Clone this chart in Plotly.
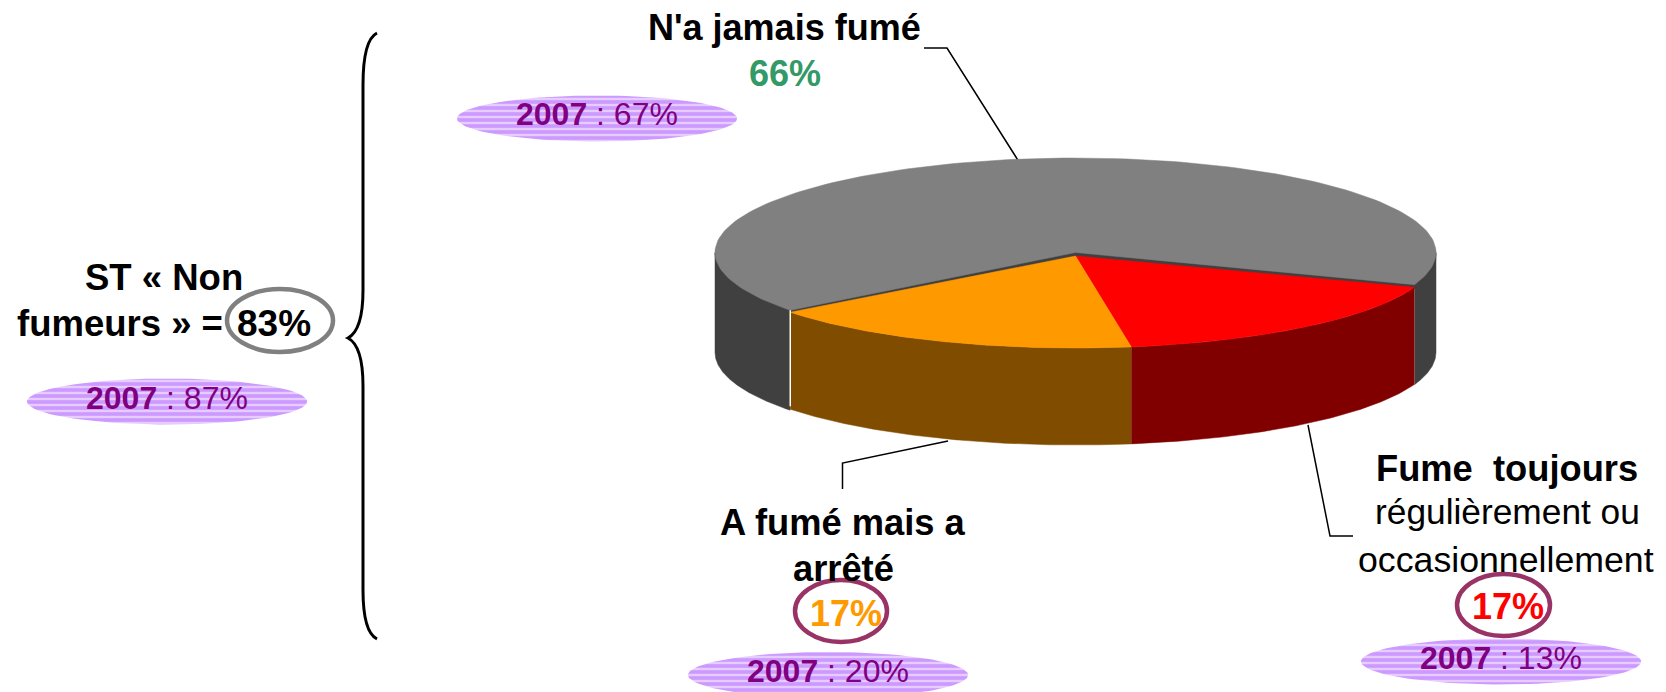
import numpy as np
import plotly.graph_objects as go

# ---- data ----
categories = ["Fume toujours", "A fumé mais a arrêté", "N'a jamais fumé"]
shares_2008 = [17, 17, 66]
top_colors = ["#ff0000", "#ff9900", "#808080"]
wall_colors = ["#800000", "#804d00", "#404040"]

FONT = "Liberation Sans"
PURPLE = "#800080"

# (text, x, y, size, colour)
labels = [
    ("<b>N'a jamais fumé</b>", 784, 27, 36, "#000000"),
    ("<b>66%</b>", 785, 73, 36, "#339966"),
    ("<b>ST « Non</b>", 163.5, 277, 36.5, "#000000"),
    ("<b>fumeurs » =</b>", 120, 323, 36.5, "#000000"),
    ("<b>83%</b>", 274, 323, 37, "#000000"),
    ("<b>A fumé mais a</b>", 843, 522, 36.3, "#000000"),
    ("<b>arrêté</b>", 843, 568, 36.3, "#000000"),
    ("<b>17%</b>", 846, 613, 36, "#ff9900"),
    ("<b>Fume\u00a0\u00a0toujours</b>", 1507, 468, 36.3, "#000000"),
    ("régulièrement ou", 1507, 511, 35.3, "#000000"),
    ("occasionnellement", 1506, 560, 35.7, "#000000"),
    ("<b>17%</b>", 1508, 606, 36, "#ff0000"),
]
# (text, ellipse centre x, ellipse centre y, text x, text y)
history = [
    ("<b>2007</b> : 67%", 597, 118.5, 597, 114),
    ("<b>2007</b> : 87%", 167, 401.5, 167, 398),
    ("<b>2007</b> : 20%", 828, 675, 828, 671),
    ("<b>2007</b> : 13%", 1501, 661.5, 1501, 658),
]
# (x0, y0, x1, y1, colour, width)
rings = [
    (227, 289, 333, 352, "#808080", 4.5),
    (795, 580, 887, 642, "#993366", 4.5),
    (1457, 574, 1550, 636, "#993366", 4.5),
]
leaders = [
    ([924, 947, 1021], [48, 48, 165]),
    ([842.5, 842.5, 948], [489, 463, 441]),
    ([1308, 1330, 1353], [425, 536, 536]),
]
brace = "M 377 33 Q 363 40 363 85 L 363 290 Q 363 330 348 338 Q 363 346 363 386 L 363 590 Q 363 632 377 639"

# ---- pie geometry ----
CX, A = 1075.5, 360.5
BACK = dict(cy=252.5, b=94.5, depth=100)
FRONT = dict(cy=256, b=92, depth=97)
START = 19.9


def arc(t0, t1, g, drop=0.0):
    t = np.radians(np.linspace(t0, t1, 160))
    return CX + A * np.cos(t), g["cy"] + g["b"] * np.sin(t) + drop


def add_poly(fig, x, y, color):
    fig.add_trace(go.Scatter(x=list(x), y=list(y), mode="lines", fill="toself",
                             fillcolor=color, line=dict(color=color, width=0.5),
                             hoverinfo="skip", showlegend=False))


def add_wall(fig, t0, t1, g, color):
    x, y = arc(t0, t1, g)
    xb, yb = arc(t1, t0, g, g["depth"])
    add_poly(fig, np.r_[x, xb], np.r_[y, yb], color)


def add_wedge(fig, t0, t1, g, color, drop=0.0):
    x, y = arc(t0, t1, g, drop)
    add_poly(fig, np.r_[CX, x, CX], np.r_[g["cy"] + drop, y, g["cy"] + drop], color)


fig = go.Figure()

# leader lines lie behind the pie
for lx, ly in leaders:
    fig.add_trace(go.Scatter(x=lx, y=ly, mode="lines", line=dict(color="#000000", width=1.5),
                             hoverinfo="skip", showlegend=False))

angles = START + np.cumsum([0] + shares_2008) * 3.6

# back slice: walls, inner strip, top
add_wall(fig, START, 0, BACK, wall_colors[2])
add_wall(fig, angles[2], 180, BACK, wall_colors[2])
add_wedge(fig, angles[2], angles[3], BACK, wall_colors[2], drop=4)
add_wedge(fig, angles[2], angles[3], BACK, top_colors[2])

# front slices
for i in (0, 1):
    add_wall(fig, angles[i], angles[i + 1], FRONT, wall_colors[i])
    add_wedge(fig, angles[i], angles[i + 1], FRONT, top_colors[i])

# thin white seam on the left of the orange wall
sx, sy = arc(angles[2], angles[2], FRONT)
fig.add_trace(go.Scatter(x=[sx[0], sx[0]], y=[sy[0] - 2, sy[0] + FRONT["depth"] - 3], mode="lines",
                         line=dict(color="#ffffff", width=1.5), hoverinfo="skip", showlegend=False))

# hatched 2007 ovals
for _, ex, ey, _, _ in history:
    t = np.radians(np.linspace(0, 360, 121))
    fig.add_trace(go.Scatter(
        x=ex + 140 * np.cos(t), y=ey + 23 * np.sin(t), mode="lines", fill="toself",
        fillcolor="#cc99ff", line=dict(width=0),
        fillpattern=dict(shape="-", bgcolor="#cc99ff", fgcolor="#ffffff", size=6, solidity=0.4),
        hoverinfo="skip", showlegend=False))

annotations = []
for text, x, y, size, color in labels:
    annotations.append(dict(x=x, y=y, text=text, showarrow=False, xanchor="center", yanchor="middle",
                            font=dict(family=FONT, size=size, color=color)))
for text, _, _, tx, ty in history:
    annotations.append(dict(x=tx, y=ty, text=text, showarrow=False, xanchor="center", yanchor="middle",
                            font=dict(family=FONT, size=32, color=PURPLE)))

shapes = [dict(type="circle", xref="x", yref="y", x0=a, y0=b, x1=c, y1=d,
               line=dict(color=col, width=w), layer="above") for a, b, c, d, col, w in rings]
shapes.append(dict(type="path", path=brace, xref="x", yref="y", line=dict(color="#000000", width=3)))

fig.update_layout(
    width=1666, height=692, margin=dict(l=0, r=0, t=0, b=0),
    paper_bgcolor="#ffffff", plot_bgcolor="#ffffff",
    xaxis=dict(range=[0, 1666], visible=False, fixedrange=True),
    yaxis=dict(range=[692, 0], visible=False, fixedrange=True),
    annotations=annotations, shapes=shapes,
)
fig.write_html("out.html", config={"displayModeBar": False},
               post_script="document.body.style.margin='0';")
